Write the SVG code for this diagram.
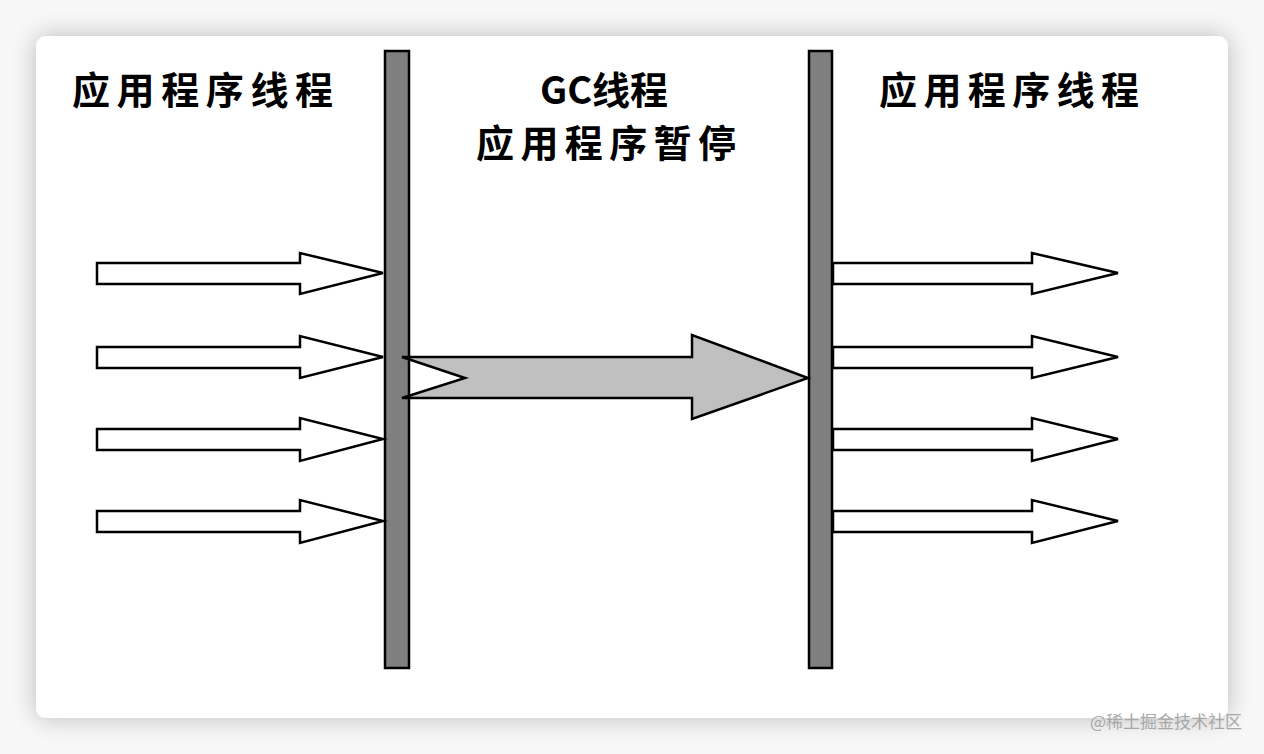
<svg xmlns="http://www.w3.org/2000/svg" width="1264" height="754" viewBox="0 0 1264 754">
<style>
.lbl{font-family:"Noto Sans CJK SC","Noto Sans",sans-serif;font-weight:bold;font-size:38px;fill:#000}
.bar{fill:#7f7f7f;stroke:#000;stroke-width:2.5}
.arr{fill:#fff;stroke:#000;stroke-width:2.5;stroke-linejoin:miter}
.big{fill:#c0c0c0;stroke:#000;stroke-width:2.5}
.wm{font-family:"Noto Sans CJK SC","Noto Sans",sans-serif;font-size:17px;fill:#a8a8a8}
</style>
<defs>
<filter id="sh" x="-10%" y="-10%" width="120%" height="120%">
<feGaussianBlur in="SourceAlpha" stdDeviation="12"/>
<feComponentTransfer><feFuncA type="linear" slope="0.25"/></feComponentTransfer>
<feMerge><feMergeNode/><feMergeNode in="SourceGraphic"/></feMerge>
</filter>
</defs>
<rect x="0" y="0" width="1264" height="754" fill="#f7f7f7"/>
<rect x="36" y="36" width="1192" height="682" rx="10" fill="#fff" filter="url(#sh)"/>
<g id="label-left"><text class="lbl" x="72" y="104" textLength="261" lengthAdjust="spacing">应用程序线程</text></g>
<g id="label-gc"><text class="lbl" x="540" y="104" textLength="128" lengthAdjust="spacing">GC线程</text>
<text class="lbl" x="476" y="157" textLength="260" lengthAdjust="spacing">应用程序暂停</text></g>
<g id="label-right"><text class="lbl" x="879" y="104" textLength="260" lengthAdjust="spacing">应用程序线程</text></g>
<g id="bar-left"><rect class="bar" x="385" y="51" width="24" height="617"/></g>
<g id="bar-right"><rect class="bar" x="809" y="51" width="23" height="617"/></g>
<g id="connectors">
<polygon class="arr" points="97,263 300,263 300,253 383,273 300,294 300,284 97,284"/>
<polygon class="arr" points="97,347 300,347 300,336 383,357 300,378 300,368 97,368"/>
<polygon class="arr" points="97,429 300,429 300,418 383,439 300,461 300,450 97,450"/>
<polygon class="arr" points="97,511 300,511 300,500 383,521 300,543 300,532 97,532"/>
<polygon class="arr" points="833,263 1032,263 1032,253 1118,273 1032,294 1032,284 833,284"/>
<polygon class="arr" points="833,347 1032,347 1032,336 1118,357 1032,378 1032,368 833,368"/>
<polygon class="arr" points="833,429 1032,429 1032,418 1118,439 1032,461 1032,450 833,450"/>
<polygon class="arr" points="833,511 1032,511 1032,500 1118,521 1032,543 1032,532 833,532"/>
<polygon class="big" points="402,357 692,357 692,335 808,378 692,419 692,398 402,398 465,378"/>
</g>
<text class="wm" x="1242" y="728" text-anchor="end">@稀土掘金技术社区</text>
</svg>
